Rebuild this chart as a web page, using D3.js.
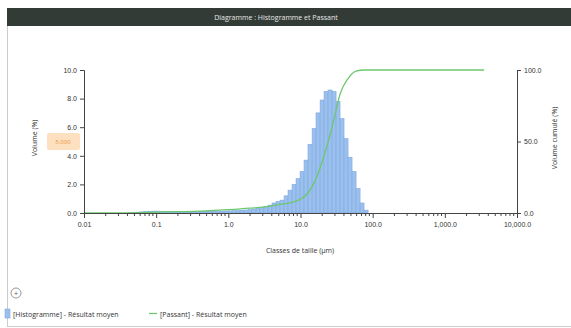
<!DOCTYPE html>
<html>
<head>
<meta charset="utf-8">
<script src="https://cdn.jsdelivr.net/npm/d3@7"></script>
<style>
  body { margin: 0; background: #fff; font-family: "Open Sans", "DejaVu Sans", sans-serif; }
  svg text { fill: #333; }
</style>
</head>
<body>
<svg id="chart" width="571" height="328"></svg>
<script>
// class lower edges (µm) and histogram volume (%)
var classSizes = [0.0407, 0.0463, 0.0526, 0.0597, 0.0679, 0.0771, 0.0876, 0.0995, 0.113, 0.128,
  0.146, 0.166, 0.188, 0.214, 0.243, 0.276, 0.314, 0.357, 0.405, 0.460,
  0.523, 0.594, 0.675, 0.767, 0.872, 0.991, 1.13, 1.28, 1.45, 1.65,
  1.88, 2.13, 2.42, 2.75, 3.12, 3.55, 4.03, 4.58, 5.21, 5.92,
  6.72, 7.64, 8.68, 9.86, 11.2, 12.7, 14.5, 16.4, 18.7, 21.2,
  24.1, 27.4, 31.1, 35.3, 40.1, 45.6, 51.8, 58.9, 66.9, 76.0, 86.4];
var histValues = [0.02, 0.04, 0.06, 0.08, 0.10, 0.12, 0.13, 0.13, 0.12, 0.11,
  0.10, 0.09, 0.09, 0.09, 0.09, 0.10, 0.10, 0.10, 0.11, 0.11,
  0.12, 0.12, 0.13, 0.13, 0.14, 0.15, 0.16, 0.17, 0.19, 0.21,
  0.24, 0.28, 0.33, 0.39, 0.46, 0.55, 0.7, 0.8, 0.9, 1.2,
  1.6, 2.0, 2.4, 2.9, 3.7, 4.8, 5.9, 7.0, 7.9, 8.5,
  8.6, 8.5, 7.8, 6.6, 5.2, 3.9, 2.9, 1.7, 0.7, 0.2];

// cumulative curve (passant, %)
var passSizes = [0.01, 0.0407, 0.1, 0.5, 1, 2, 4.03, 5.21, 7.64, 9.86, 12.7, 16.4, 21.2, 27.4, 31.1, 35.3, 45.6, 58.9, 76, 100, 3500];
var passValues = [0, 0, 0.6, 1.5, 2.3, 3.4, 5, 6, 7.5, 9.5, 14, 24, 40, 60, 72, 83, 94, 99.2, 100, 100, 100];

var xTicks = [0.01, 0.1, 1, 10, 100, 1000, 10000];
var xTickLabels = ["0.01", "0.1", "1.0", "10.0", "100.0", "1,000.0", "10,000.0"];
var yTicks = [0, 2, 4, 6, 8, 10];
var y2Ticks = [0, 50, 100];

var svg = d3.select("#chart");
var plotL = 84, plotR = 517, plotT = 70, plotB = 213;

// panel frame + title bar
svg.append("line").attr("x1", 7.5).attr("x2", 7.5).attr("y1", 8).attr("y2", 327)
  .attr("stroke", "#ccc");
svg.append("line").attr("x1", 7).attr("x2", 571).attr("y1", 326.5).attr("y2", 326.5)
  .attr("stroke", "#ccc");
svg.append("rect").attr("x", 7).attr("y", 8).attr("width", 564).attr("height", 18)
  .attr("fill", "#333b37");
svg.append("text").attr("x", 276).attr("y", 20).attr("text-anchor", "middle")
  .style("font-size", "7px").style("fill", "#e8e8e8")
  .text("Diagramme : Histogramme et Passant");

var x = d3.scaleLog().domain([0.01, 10000]).range([plotL, plotR]);
var y = d3.scaleLinear().domain([0, 10]).range([plotB, plotT]);
var y2 = d3.scaleLinear().domain([0, 100]).range([plotB, plotT]);

// bars
svg.append("g").selectAll("rect")
  .data(histValues)
  .enter()
  .append("rect")
  .attr("x", function (d, i) { return x(classSizes[i]); })
  .attr("width", function (d, i) { return x(classSizes[i + 1]) - x(classSizes[i]); })
  .attr("y", function (d) { return y(d); })
  .attr("height", function (d) { return plotB - y(d); })
  .attr("fill", "#9cc0ee")
  .attr("stroke", "#7ea8e0")
  .attr("stroke-width", 0.6);

// cumulative line
var line = d3.line()
  .x(function (d, i) { return x(passSizes[i]); })
  .y(function (d) { return y2(d); })
  .curve(d3.curveMonotoneX);
svg.append("path").datum(passValues)
  .attr("d", line)
  .attr("fill", "none")
  .attr("stroke", "#6cc86c")
  .attr("stroke-width", 1.3);

// axes
var xAxis = d3.axisBottom(x).tickValues(xTicks).tickSize(5)
  .tickFormat(function (d, i) { return xTickLabels[i]; });
var gx = svg.append("g").attr("transform", "translate(0," + plotB + ")").call(xAxis);
var minor = [];
xTicks.slice(0, -1).forEach(function (t) {
  for (var k = 2; k < 10; k++) minor.push(t * k);
});
gx.selectAll(".minor").data(minor).enter().append("line")
  .attr("x1", function (d) { return x(d); }).attr("x2", function (d) { return x(d); })
  .attr("y1", 0).attr("y2", 3).attr("stroke", "#444");

var gy = svg.append("g").attr("transform", "translate(" + plotL + ",0)")
  .call(d3.axisLeft(y).tickValues(yTicks).tickSize(4).tickFormat(d3.format(".1f")));
var gy2 = svg.append("g").attr("transform", "translate(" + plotR + ",0)")
  .call(d3.axisRight(y2).tickValues(y2Ticks).tickSize(4).tickFormat(d3.format(".1f")));

[gx, gy, gy2].forEach(function (g) {
  g.select(".domain").attr("stroke", "#444");
  g.selectAll(".tick line").attr("stroke", "#444");
  g.selectAll("text").style("font-size", "7px").style("fill", "#333");
});
gx.selectAll(".tick text").attr("dy", "0.9em");

// axis titles
svg.append("text").attr("transform", "translate(37,138) rotate(-90)")
  .attr("text-anchor", "middle").style("font-size", "7px").text("Volume (%)");
svg.append("text").attr("transform", "translate(557,138) rotate(-90)")
  .attr("text-anchor", "middle").style("font-size", "7px").text("Volume cumulé (%)");
svg.append("text").attr("x", 300).attr("y", 253)
  .attr("text-anchor", "middle").style("font-size", "7px").text("Classes de taille (µm)");

// orange marker label
svg.append("rect").attr("x", 47).attr("y", 133).attr("width", 33).attr("height", 17)
  .attr("fill", "#fde0c0").attr("rx", 2);
svg.append("text").attr("x", 63).attr("y", 144).attr("text-anchor", "middle")
  .style("font-size", "6px").style("fill", "#e8923a").text("5.000");

// small collapse button
svg.append("circle").attr("cx", 16).attr("cy", 293).attr("r", 5)
  .attr("fill", "#fff").attr("stroke", "#999");
svg.append("text").attr("x", 16).attr("y", 295.5).attr("text-anchor", "middle")
  .style("font-size", "7px").style("fill", "#555").text("+");

// legend
svg.append("rect").attr("x", 5).attr("y", 309).attr("width", 5).attr("height", 9)
  .attr("fill", "#9cc0ee").attr("stroke", "#7ea8e0").attr("stroke-width", 0.6);
svg.append("text").attr("x", 13).attr("y", 316.5).style("font-size", "7px")
  .text("[Histogramme] - Résultat moyen");
svg.append("line").attr("x1", 149).attr("x2", 157).attr("y1", 313.5).attr("y2", 313.5)
  .attr("stroke", "#6cc86c").attr("stroke-width", 1.3);
svg.append("text").attr("x", 160).attr("y", 316.5).style("font-size", "7px")
  .text("[Passant] - Résultat moyen");
</script>
</body>
</html>
